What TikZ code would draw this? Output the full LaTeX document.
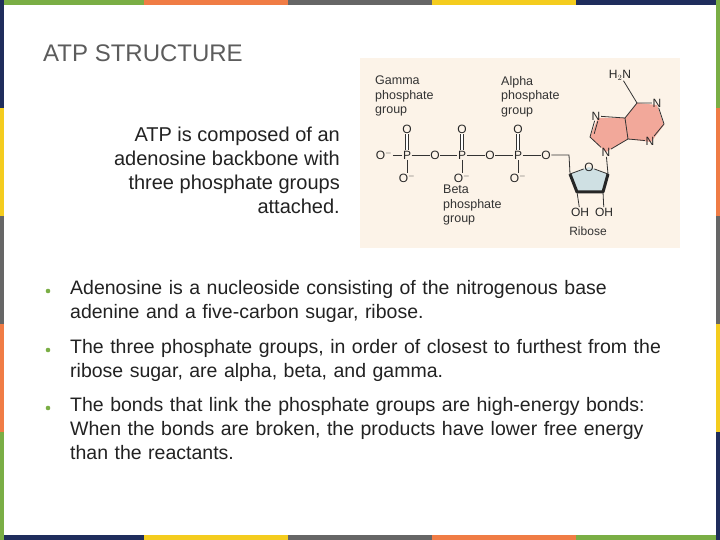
\documentclass[tikz,border=0pt]{standalone}
\usepackage{fontspec}
\usetikzlibrary{calc}
\setmainfont{Liberation Sans}
\definecolor{cg}{HTML}{7AAE45}
\definecolor{co}{HTML}{F07C45}
\definecolor{cy}{HTML}{F4CC1E}
\definecolor{cr}{HTML}{666666}
\definecolor{cn}{HTML}{1F2D5C}
\definecolor{txt}{HTML}{222222}
\definecolor{cream}{HTML}{FCF3E8}
\definecolor{pinkr}{HTML}{F2A89A}
\definecolor{ribc}{HTML}{CFE0E3}
\begin{document}
\begin{tikzpicture}[x=1pt,y=-1pt,
  chem/.style={font=\fontsize{12}{13}\selectfont,inner sep=0.5pt,text=black!85},
  lab/.style={font=\fontsize{12.5}{14.5}\selectfont,align=left,anchor=north west,inner sep=0,text=black!80},
  body/.style={font=\fontsize{19.5}{24}\selectfont,text=txt,anchor=north west,inner sep=0,align=left,text width=640},
  bond/.style={line width=0.8pt,black!80}]
\useasboundingbox (0,0) rectangle (720,540);
\fill[white] (0,0) rectangle (720,540);
% frame
\foreach \c [count=\i from 0] in {cg,co,cr,cy,cn}{
  \fill[\c] (\i*144,0) rectangle (\i*144+144,5);
}
\foreach \c [count=\i from 0] in {cn,cy,cr,co,cg}{
  \fill[\c] (\i*144,535) rectangle (\i*144+144,540);
  \fill[\c] (0,\i*108) rectangle (4,\i*108+108);
}
\foreach \c [count=\i from 0] in {cg,co,cr,cy,cn}{
  \fill[\c] (716,\i*108) rectangle (720,\i*108+108);
}
\node[anchor=west,inner sep=0,font=\fontsize{24}{26}\selectfont,text=cr!90!black] (title) at (43,53) {ATP STRUCTURE};
\node[anchor=north east,align=right,inner sep=0,font=\fontsize{20}{24}\selectfont,text=txt] (intro) at (340,127)
 {ATP is composed of an\\adenosine backbone with\\three phosphate groups\\attached.};
% image
\fill[cream] (360,58) rectangle (680,248);
\node[lab] (gam) at (375,76) {Gamma\\phosphate\\group};
\node[lab] (alp) at (501,76) {Alpha\\phosphate\\group};
\node[lab] (bet) at (443,185) {Beta\\phosphate\\group};
% purine fill
\fill[pinkr] (598,118) -- (625,118) -- (637,103) -- (657,105) -- (664,125) -- (651,142) -- (628,139) -- (606,152) -- (590,137) -- cycle;
% ribose
\fill[ribc] (570,174) -- (589,167) -- (608,174) -- (603,192) -- (577,192) -- cycle;
\node[chem] (ro) at (589,167) {O};
\coordinate (c4) at (570,174); \coordinate (c1) at (608,174);
\coordinate (c3) at (577,192); \coordinate (c2) at (603,192);
\draw[bond] (c4) -- (ro) -- (c1);
\draw[line width=3pt,black!85,line join=round] (c4) -- (c3) -- (c2) -- (c1);
\node[chem] (oh1) at (580,212) {OH};
\node[chem] (oh2) at (604,212) {OH};
\draw[bond] (c3) -- (oh1); \draw[bond] (c2) -- (oh2);
\node[chem,text=black!80] (rib) at (588,231) {Ribose};
% phosphates
\node[chem] (om) at (384,155) {O$^{-}$};
\foreach \n/\x in {p1/407,p2/462,p3/518}{
  \node[chem] (\n) at (\x,155) {P};
  \node[chem] (\n t) at (\x,129) {O};
  \node[chem] (\n b) at (\x,178) {O$^{-}$};
  \draw[bond,double,double distance=1.5pt] (\n) -- (\n t);
  \draw[bond] (\n) -- (\n b);
}
\node[chem] (b1) at (435,155) {O};
\node[chem] (b2) at (490,155) {O};
\node[chem] (b3) at (546,155) {O};
\draw[bond] (om) -- (p1) -- (b1) -- (p2) -- (b2) -- (p3) -- (b3);
\coordinate (ch2) at (569,155);
\draw[bond] (b3) -- (ch2) -- (c4);
% purine
\node[chem] (n9) at (606,152) {N};
\node[chem] (n7) at (596,116) {N};
\node[chem] (n1) at (657,103) {N};
\node[chem] (n3) at (650,141) {N};
\node[chem] (nh) at (620,75) {H$_2$N};
\coordinate (c8) at (590,137); \coordinate (c5) at (625,118);
\coordinate (c4p) at (628,139); \coordinate (c6) at (637,103);
\coordinate (c2p) at (664,124);
\draw[bond] (c1) -- (n9);
\draw[bond] (n9) -- (c8) -- (n7) -- (c5) -- (c4p) -- (n9);
\draw[bond] (c5) -- (c6) -- (n1) -- (c2p) -- (n3) -- (c4p);
\draw[bond] (c6) -- (nh);
\draw[bond] ($(c8)!0.2!(n7)+(3,1)$) -- ($(c8)!0.8!(n7)+(3,1)$);
% bullets
\foreach \n/\y/\t in {bu1/280/{Adenosine is a nucleoside consisting of the nitrogenous base\\adenine and a five-carbon sugar, ribose.},
  bu2/339/{The three phosphate groups, in order of closest to furthest from the\\ribose sugar, are alpha, beta, and gamma.},
  bu3/397/{The bonds that link the phosphate groups are high-energy bonds:\\When the bonds are broken, the products have lower free energy\\than the reactants.}}{
  \node[body] (\n) at (70,\y) {\t};
  \fill[cg] (48,\y+11) circle (2.3) coordinate (\n d);
}
\end{tikzpicture}
\end{document}
